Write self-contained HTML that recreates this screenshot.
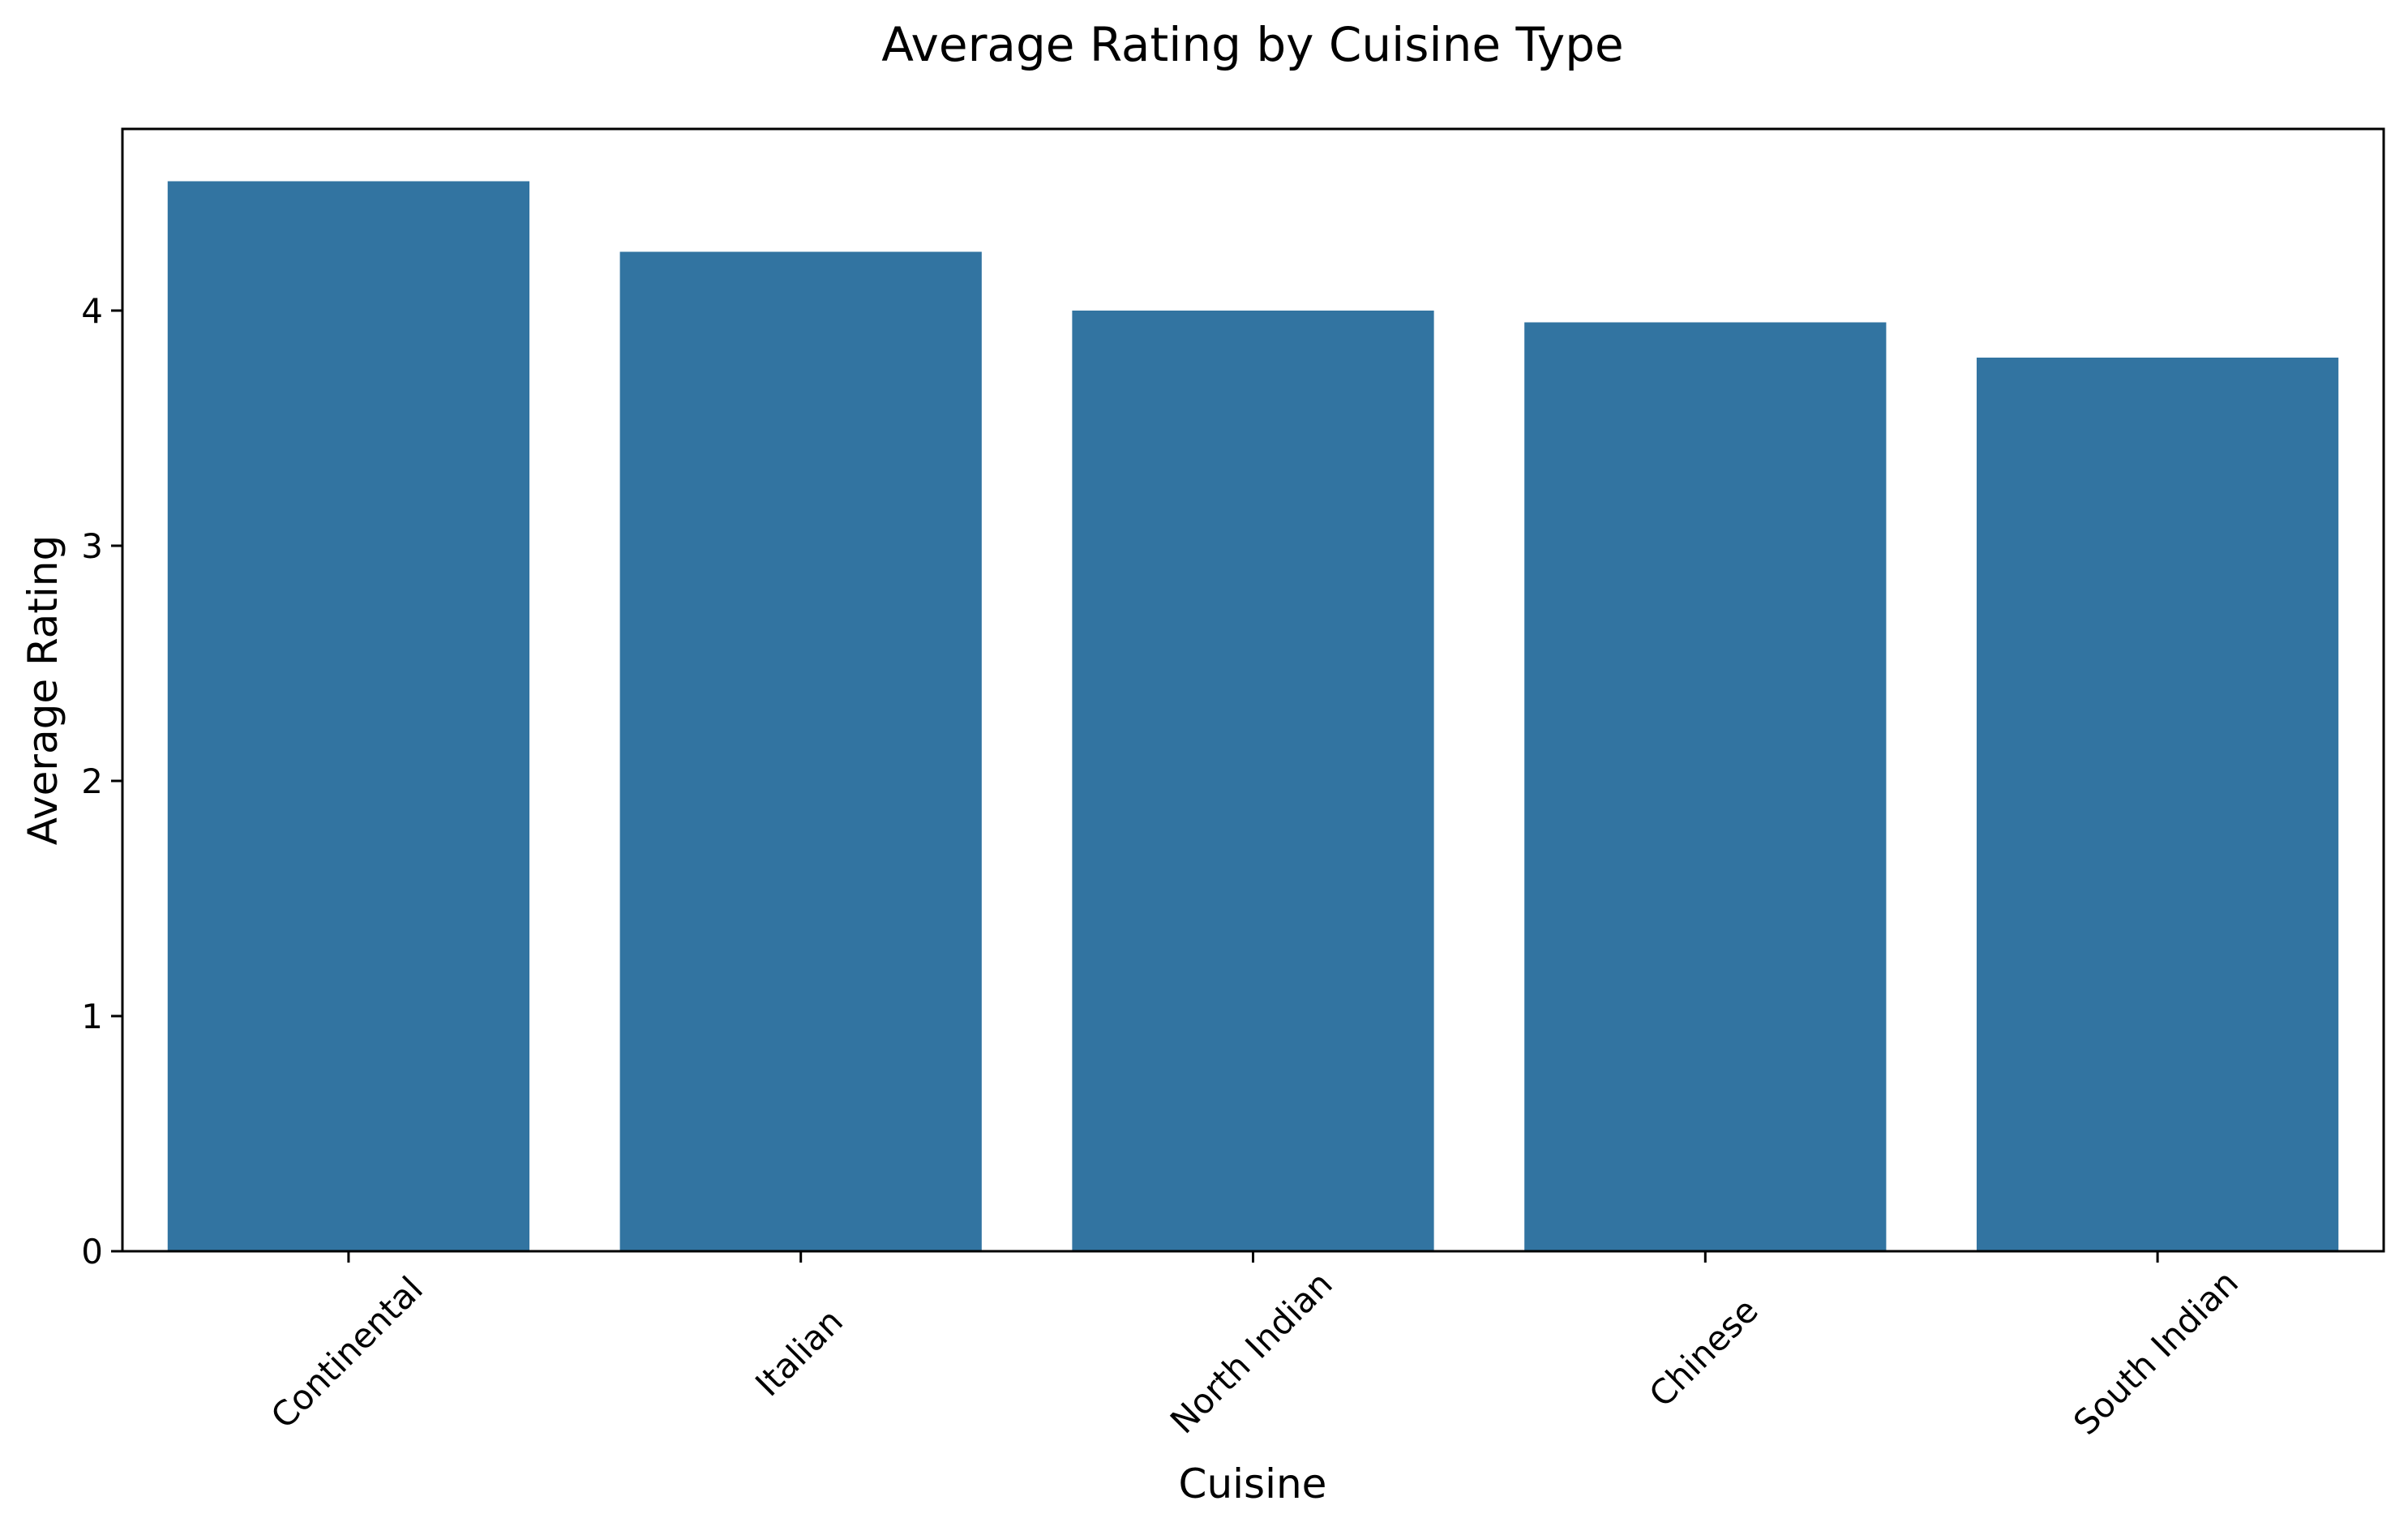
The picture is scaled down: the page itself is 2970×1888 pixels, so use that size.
<!DOCTYPE html>
<html><head><meta charset="utf-8"><style>
html,body{margin:0;padding:0;background:#fff;}
svg text{font-family:"DejaVu Sans","Liberation Sans",sans-serif;fill:#000;}
</style></head><body>
<svg id="chart" width="2970" height="1883" viewBox="0 0 2970 1883" xmlns="http://www.w3.org/2000/svg">
<rect width="2970" height="1883" fill="#fff"/>
<text x="1545" y="75" font-size="58" text-anchor="middle">Average Rating by Cuisine Type</text>
<g id="bars"></g>
<g id="yaxis"></g>
<g id="xaxis"></g>
<rect x="151" y="159" width="2789" height="1384" fill="none" stroke="#000" stroke-width="3"/>
<text transform="translate(70,851) rotate(-90)" font-size="50" text-anchor="middle">Average Rating</text>
<text x="1545" y="1847" font-size="50" text-anchor="middle">Cuisine</text>
</svg>
<script>
const categories = ["Continental","Italian","North Indian","Chinese","South Indian"];
const ratings = [4.55, 4.25, 4.0, 3.95, 3.8];
const yTicks = [0,1,2,3,4];
const yTickLabels = ["0","1","2","3","4"];

const L=151,R=2940,T=159,B=1543;
const yMax=(B-T)/290;
function yScale(v){return B-(v/yMax)*(B-T);}
const step=(R-L)/categories.length;
function xScale(i){return L+step*(i+0.5);}
const NS="http://www.w3.org/2000/svg";
const bars=document.getElementById('bars');
const xa=document.getElementById('xaxis');
const ya=document.getElementById('yaxis');
const bw=step*0.8;
categories.forEach((c,i)=>{
  const r=document.createElementNS(NS,'rect');
  r.setAttribute('x',xScale(i)-bw/2);
  r.setAttribute('y',yScale(ratings[i]));
  r.setAttribute('width',bw);
  r.setAttribute('height',B-yScale(ratings[i]));
  r.setAttribute('fill','#3274a1');
  
  
  bars.appendChild(r);
  const t=document.createElementNS(NS,'line');
  t.setAttribute('x1',xScale(i));t.setAttribute('x2',xScale(i));
  t.setAttribute('y1',B);t.setAttribute('y2',B+14);
  t.setAttribute('stroke','#000');t.setAttribute('stroke-width','3');
  
  
  xa.appendChild(t);
  const lb=document.createElementNS(NS,'text');
  lb.setAttribute('transform','translate('+xScale(i)+',1670) rotate(-45)');
  lb.setAttribute('text-anchor','middle');
  lb.setAttribute('dominant-baseline','middle');
  lb.setAttribute('font-size','42');
  lb.textContent=c;
  
  
  xa.appendChild(lb);
});
yTicks.forEach((v,i)=>{
  const t=document.createElementNS(NS,'line');
  t.setAttribute('x1',L-14);t.setAttribute('x2',L);
  t.setAttribute('y1',yScale(v));t.setAttribute('y2',yScale(v));
  t.setAttribute('stroke','#000');t.setAttribute('stroke-width','3');
  
  
  ya.appendChild(t);
  const lb=document.createElementNS(NS,'text');
  lb.setAttribute('x',L-24);lb.setAttribute('y',yScale(v)+15);
  lb.setAttribute('text-anchor','end');
  lb.setAttribute('font-size','42');
  lb.textContent=yTickLabels[i];
  
  
  ya.appendChild(lb);
});
</script>
</body></html>
